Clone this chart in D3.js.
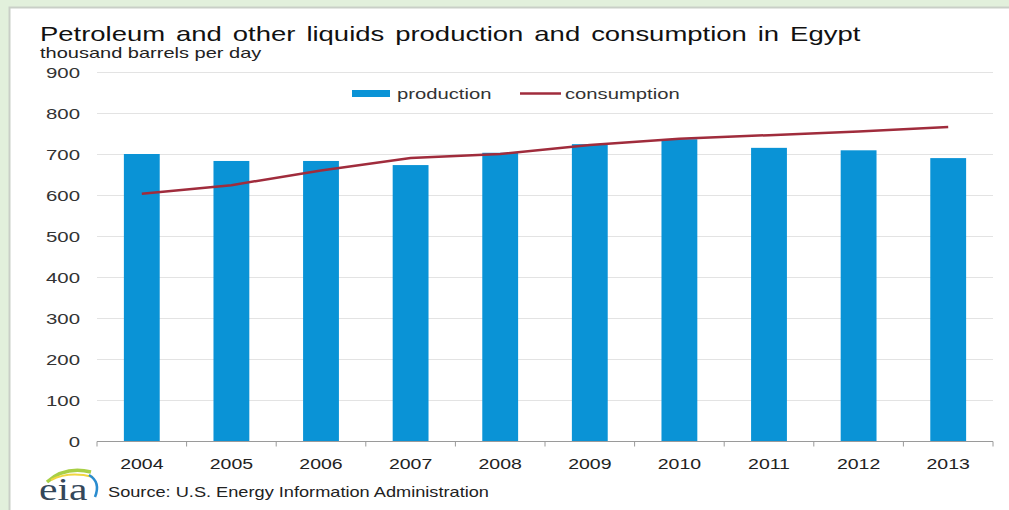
<!DOCTYPE html>
<html>
<head>
<meta charset="utf-8">
<script src="https://cdn.jsdelivr.net/npm/d3@7"></script>
<style>
  html, body { margin: 0; padding: 0; background: #fff; overflow: hidden; }
  svg { display: block; font-family: "Liberation Sans", Arial, sans-serif; }
</style>
</head>
<body>
<svg id="chart" width="1009" height="510"></svg>
<script>
// Egypt petroleum and other liquids, thousand barrels per day
const years = ["2004", "2005", "2006", "2007", "2008", "2009", "2010", "2011", "2012", "2013"];
const production = [700, 683, 683, 673, 703, 724, 736, 715, 709, 690];
const consumption = [603, 624, 660, 690, 700, 722, 737, 746, 755, 766];
const yTicks = [0, 100, 200, 300, 400, 500, 600, 700, 800, 900];

const svg = d3.select("#chart");
const W = 1009, H = 510;
const margin = { left: 97, right: 16, top: 72, bottom: 69 };
const SX = 1.33; // wide lettering used throughout

// text helper: places a horizontally widened label
function label(parent, x, y, txt, size, opts = {}) {
  const sx = opts.sx || SX;
  return parent.append("text")
    .attr("transform", `translate(${x},${y}) scale(${sx},1)`)
    .attr("text-anchor", opts.anchor || "start")
    .attr("font-size", size)
    .attr("fill", opts.fill || "#2a2a2a")
    .attr("word-spacing", opts.ws || 0)
    .text(txt);
}

// page frame
svg.append("rect").attr("width", W).attr("height", H).attr("fill", "#e2f0dc");
svg.append("rect").attr("x", 9.5).attr("y", 7.5).attr("width", W + 20).attr("height", H + 20)
  .attr("fill", "#fff").attr("stroke", "#c9cfc7").attr("stroke-width", 2);

const x = d3.scaleBand().domain(years).range([margin.left, W - margin.right]).paddingInner(0.6).paddingOuter(0.3);
const xc = d3.scalePoint().domain(years).range([margin.left, W - margin.right]).padding(0.5);
const y = d3.scaleLinear().domain([0, 900]).range([H - margin.bottom, margin.top]);

// gridlines
svg.append("g").selectAll("line").data(yTicks.filter(d => d > 0)).join("line")
  .attr("x1", margin.left).attr("x2", W - margin.right)
  .attr("y1", d => y(d) + 0.5).attr("y2", d => y(d) + 0.5)
  .attr("stroke", "#e3e3e3").attr("stroke-width", 1.2);

// y axis labels
const yl = svg.append("g");
yTicks.forEach(d => label(yl, 80, y(d) + 5.5, d, 15, { anchor: "end", sx: 1.36, fill: "#333" }));

// bars
svg.append("g").selectAll("rect").data(production).join("rect")
  .attr("x", (d, i) => x(years[i]))
  .attr("width", x.bandwidth())
  .attr("y", d => y(d))
  .attr("height", d => y(0) - y(d))
  .attr("fill", "#0a93d6");

// x axis
const xAxis = svg.append("g").attr("transform", `translate(0,${y(0) + 0.5})`);
xAxis.append("line").attr("x1", margin.left).attr("x2", W - margin.right)
  .attr("stroke", "#9a9a9a").attr("stroke-width", 1.2);
const step = (W - margin.right - margin.left) / years.length;
xAxis.selectAll("line.tick").data(d3.range(years.length + 1)).join("line")
  .attr("class", "tick")
  .attr("x1", i => margin.left + i * step).attr("x2", i => margin.left + i * step)
  .attr("y1", 0).attr("y2", 5).attr("stroke", "#9a9a9a");
years.forEach(d => label(xAxis, xc(d), 27, d, 15, { anchor: "middle", sx: 1.3, fill: "#222" }));

// consumption line
const line = d3.line().x((d, i) => xc(years[i])).y(d => y(d));
svg.append("path").datum(consumption)
  .attr("d", line).attr("fill", "none")
  .attr("stroke", "#a02c3c").attr("stroke-width", 2.5);

// legend
const lg = svg.append("g");
lg.append("rect").attr("x", 352).attr("y", 90).attr("width", 38).attr("height", 7).attr("fill", "#0a93d6");
label(lg, 397, 99, "production", 15, { sx: 1.35, fill: "#333" });
lg.append("line").attr("x1", 520).attr("x2", 561).attr("y1", 93.5).attr("y2", 93.5)
  .attr("stroke", "#a02c3c").attr("stroke-width", 2.5);
label(lg, 565, 99, "consumption", 15, { sx: 1.35, fill: "#333" });

// titles
label(svg, 40, 41, "Petroleum and other liquids production and consumption in Egypt", 20.5,
  { sx: 1.34, ws: 2.5, fill: "#111" });
label(svg, 40, 58, "thousand barrels per day", 14.5, { sx: 1.38, fill: "#222" });

// source line with eia mark
const logo = svg.append("g").attr("transform", "translate(39,468)");
logo.append("path").attr("d", "M8,14 Q26,-2 52,4").attr("fill", "none").attr("stroke", "#a8cf45").attr("stroke-width", 3.5);
logo.append("path").attr("d", "M12,12 Q30,3 54,9").attr("fill", "none").attr("stroke", "#f0d640").attr("stroke-width", 2);
logo.append("path").attr("d", "M50,7 Q62,14 56,29").attr("fill", "none").attr("stroke", "#2a8ccf").attr("stroke-width", 2.5);
logo.append("text").attr("transform", "translate(0,32) scale(1.3,1)")
  .attr("font-family", "Liberation Serif, serif")
  .attr("font-size", 32).attr("fill", "#34475a").text("eia");
label(svg, 108, 497, "Source: U.S. Energy Information Administration", 14, { sx: 1.3, fill: "#222" });
</script>
</body>
</html>
